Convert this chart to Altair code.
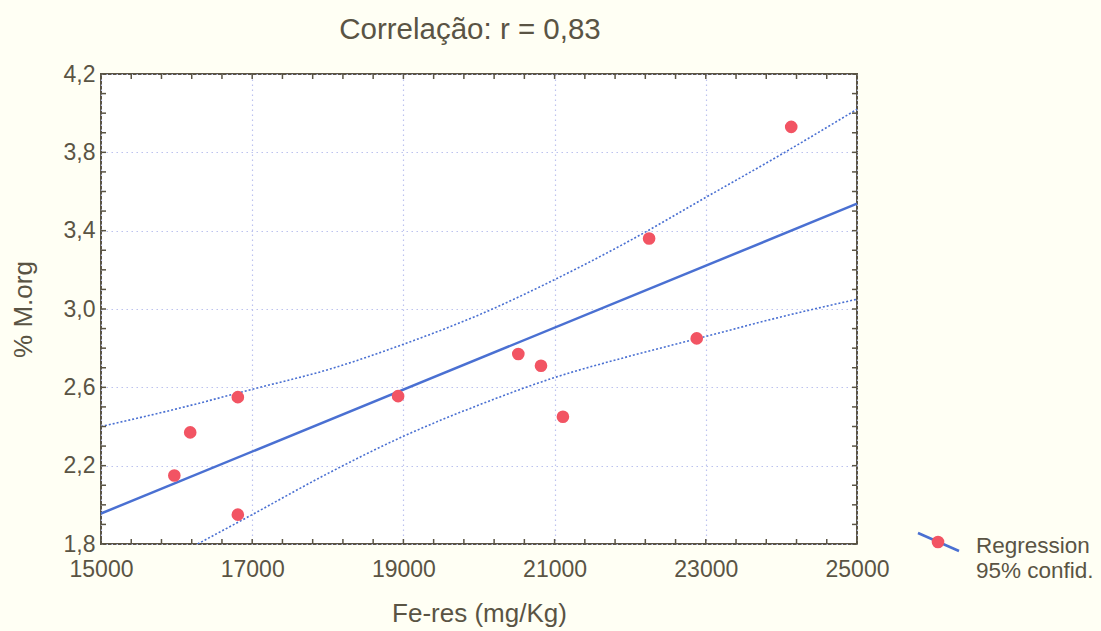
import altair as alt
import pandas as pd

# ---- data ----
fe_res = [15970, 16180, 16810, 16810, 18930, 20520, 20820, 21110, 22250, 22880, 24130]
m_org = [2.15, 2.37, 2.55, 1.95, 2.555, 2.77, 2.71, 2.45, 3.36, 2.85, 3.93]

band_x = [15000, 16000, 17000, 18000, 19000, 20000, 21000, 22000, 23000, 24000, 25000]
band_upper = [2.40, 2.49, 2.59, 2.69, 2.82, 2.97, 3.15, 3.35, 3.57, 3.79, 4.02]
band_lower = [1.51, 1.74, 1.95, 2.16, 2.35, 2.51, 2.65, 2.76, 2.86, 2.96, 3.05]

x_major = [15000, 17000, 19000, 21000, 23000, 25000]
y_major = [1.8, 2.2, 2.6, 3.0, 3.4, 3.8, 4.2]
x_minor = list(range(15000, 25001, 400))
y_minor = [round(1.8 + 0.1 * i, 1) for i in range(25)]

legend_labels = ["Regression", "95% confid."]

# ---- styling ----
FONT = "Liberation Sans"
TXT = "#5a5444"
FRAME = "#5a5444"
BLUE = "#4a70d2"
RED = "#f25463"
GRID = "#bcc2ee"
W, H = 756, 470

pts = pd.DataFrame({"fe": fe_res, "morg": m_org})
bands = pd.DataFrame({"x": band_x, "up": band_upper, "lo": band_lower})
xt = pd.DataFrame({"v": x_minor})
yt = pd.DataFrame({"v": y_minor})

xs = alt.Scale(domain=[15000, 25000], nice=False, zero=False)
ys = alt.Scale(domain=[1.8, 4.2], nice=False, zero=False)

x_axis = alt.Axis(
    values=x_major, grid=True, gridDash=[1.5, 3.5], gridColor=GRID, gridWidth=1.2,
    ticks=False, domain=False, labelFont=FONT, labelFontSize=23, labelColor=TXT,
    labelPadding=14, title="Fe-res (mg/Kg)", titleFont=FONT, titleFontSize=26,
    titleFontWeight="normal", titleColor=TXT, titlePadding=19, format="d",
    labelFlush=False,
)
y_axis = alt.Axis(
    values=y_major, grid=True, gridDash=[1.5, 3.5], gridColor=GRID, gridWidth=1.2,
    ticks=False, domain=False, labelFont=FONT, labelFontSize=23, labelColor=TXT,
    labelPadding=6, format=".1f", labelExpr="replace(datum.label, '.', ',')",
    title="% M.org", titleFont=FONT, titleFontSize=26, titleFontWeight="normal",
    titleColor=TXT, titlePadding=27, labelFlush=False,
)

base_pts = alt.Chart(pts)

points = base_pts.mark_circle(size=160, color=RED, opacity=1).encode(
    x=alt.X("fe:Q", scale=xs, axis=x_axis),
    y=alt.Y("morg:Q", scale=ys, axis=y_axis),
)

reg = base_pts.transform_regression("fe", "morg", extent=[15000, 25000]).mark_line(
    color=BLUE, strokeWidth=2.5
).encode(x=alt.X("fe:Q", scale=xs), y=alt.Y("morg:Q", scale=ys))

upper = alt.Chart(bands).mark_line(
    color=BLUE, strokeWidth=1.6, strokeDash=[2, 2], interpolate="monotone", clip=True
).encode(x=alt.X("x:Q", scale=xs), y=alt.Y("up:Q", scale=ys))
lower = alt.Chart(bands).mark_line(
    color=BLUE, strokeWidth=1.6, strokeDash=[2, 2], interpolate="monotone", clip=True
).encode(x=alt.X("x:Q", scale=xs), y=alt.Y("lo:Q", scale=ys))

TL = 5
xt_bot = alt.Chart(xt).mark_rule(color=FRAME, strokeWidth=1.5).encode(
    x=alt.X("v:Q", scale=xs), y=alt.value(H), y2=alt.value(H - TL))
xt_top = alt.Chart(xt).mark_rule(color=FRAME, strokeWidth=1.5).encode(
    x=alt.X("v:Q", scale=xs), y=alt.value(0), y2=alt.value(TL))
yt_left = alt.Chart(yt).mark_rule(color=FRAME, strokeWidth=1.5).encode(
    y=alt.Y("v:Q", scale=ys), x=alt.value(0), x2=alt.value(TL))
yt_right = alt.Chart(yt).mark_rule(color=FRAME, strokeWidth=1.5).encode(
    y=alt.Y("v:Q", scale=ys), x=alt.value(W), x2=alt.value(W - TL))

# ---- custom legend (outside the plot, lower right) ----
one = alt.Data(values=[{"a": 1}])
leg_line = alt.Chart(one).mark_rule(color=BLUE, strokeWidth=2.5).encode(
    x=alt.value(817), x2=alt.value(858), y=alt.value(459), y2=alt.value(477))
leg_dot = alt.Chart(one).mark_circle(size=160, color=RED, opacity=1).encode(
    x=alt.value(837), y=alt.value(468))
leg_t1 = alt.Chart(one).mark_text(
    font=FONT, fontSize=22.5, color=TXT, align="left", baseline="alphabetic"
).encode(x=alt.value(875), y=alt.value(479), text=alt.value(legend_labels[0]))
leg_t2 = alt.Chart(one).mark_text(
    font=FONT, fontSize=22.5, color=TXT, align="left", baseline="alphabetic"
).encode(x=alt.value(875), y=alt.value(504), text=alt.value(legend_labels[1]))

chart = alt.layer(
    upper, lower, reg, points, xt_bot, xt_top, yt_left, yt_right,
    leg_line, leg_dot, leg_t1, leg_t2,
).properties(
    width=W, height=H,
    title=alt.TitleParams(
        "Correlação: r = 0,83", font=FONT, fontSize=29.5, fontWeight="normal",
        color=TXT, anchor="middle", offset=18, dx=-9,
    ),
    autosize=alt.AutoSizeParams(type="none"),
    padding={"left": 101, "top": 74, "right": 244, "bottom": 87},
    background="#fffff4",
).configure_view(stroke=FRAME, strokeWidth=2, fill="white")

chart.save("out.html", embed_options={"renderer": "svg", "actions": False})
